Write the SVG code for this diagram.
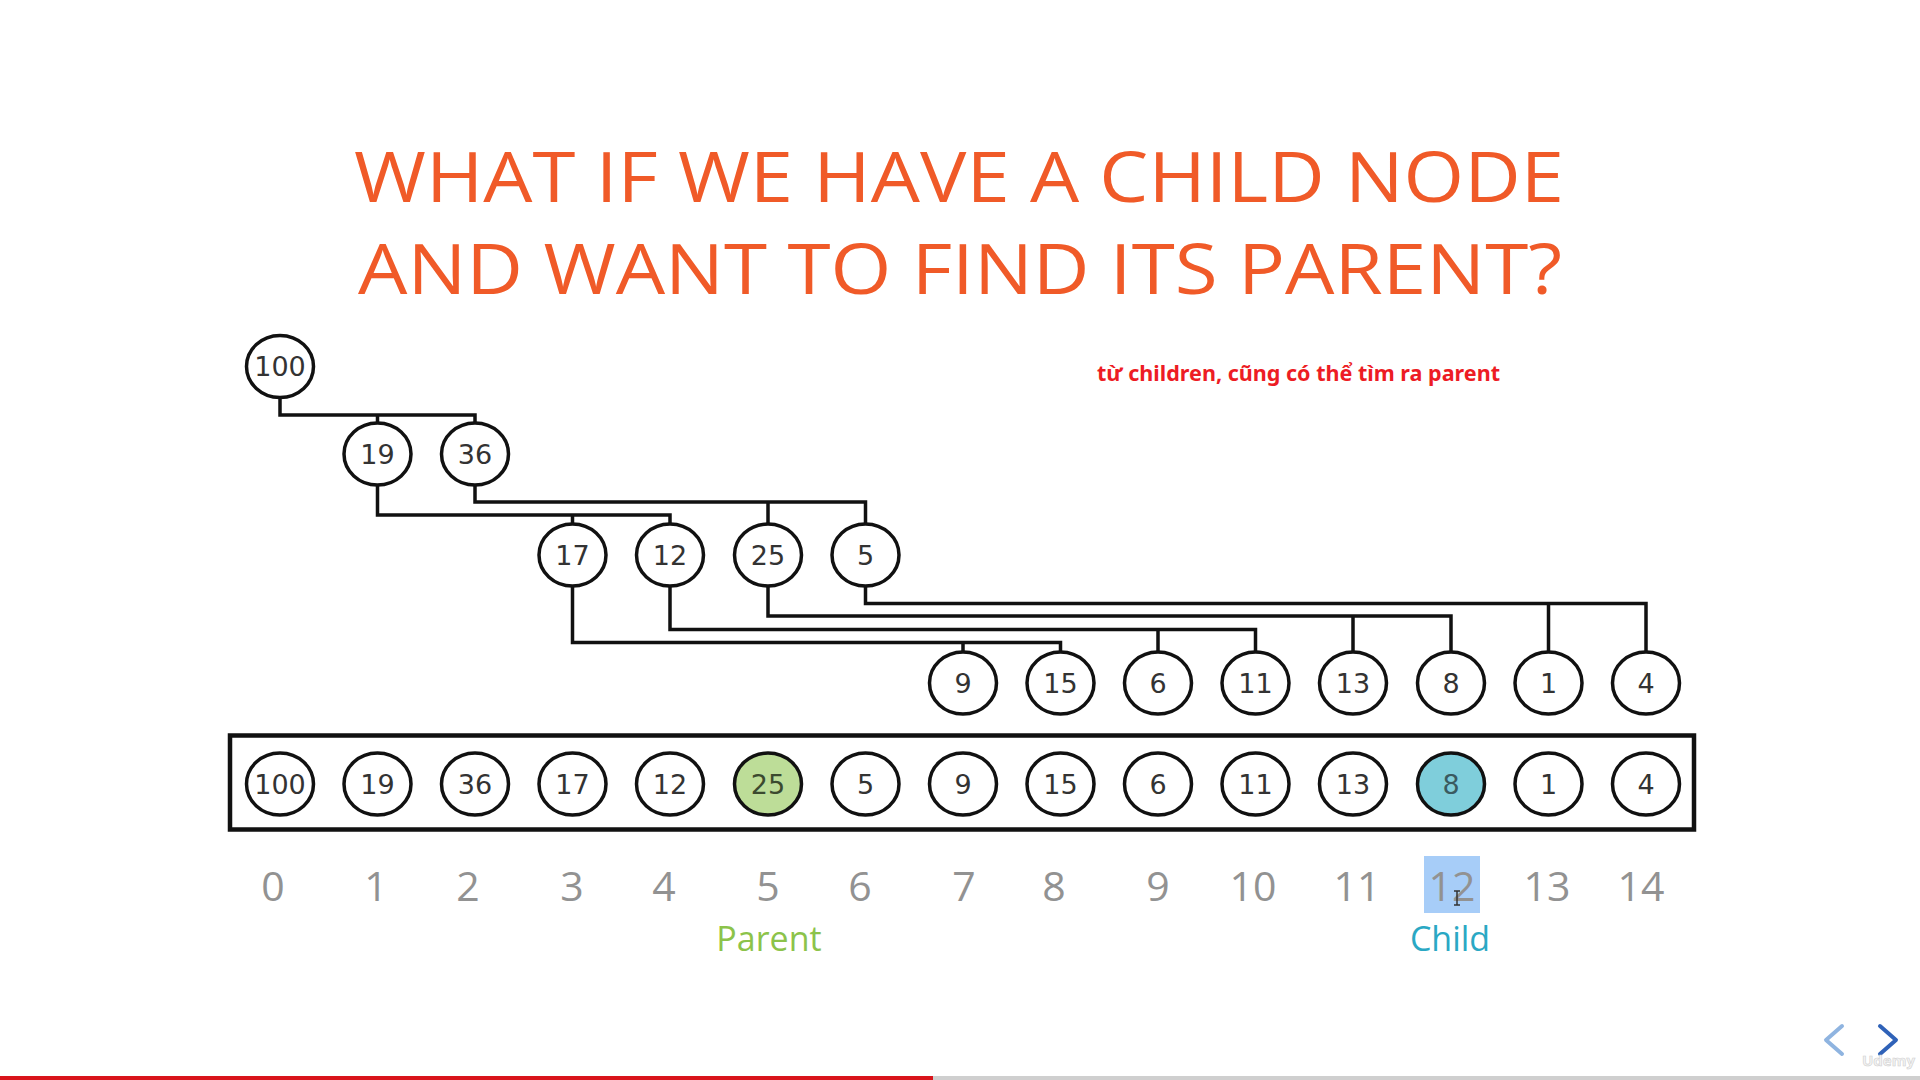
<svg xmlns="http://www.w3.org/2000/svg" width="1920" height="1080" viewBox="0 0 1920 1080">
  <style>
    .title { font-family: "Open Sans", "Liberation Sans", sans-serif; font-size: 70px; fill: #f05a28; text-anchor: middle; }
    .note { font-family: "Noto Sans", "Open Sans", sans-serif; font-weight: bold; font-size: 22px; fill: #ed1c24; }
    .node ellipse { fill: #ffffff; stroke: #111111; stroke-width: 3.5; }
    .node text { font-family: "DejaVu Sans", sans-serif; font-size: 27px; fill: #333333; text-anchor: middle; dominant-baseline: central; }
    .edge { fill: none; stroke: #111111; stroke-width: 3.5; stroke-linejoin: miter; stroke-linecap: square; }
    .idx { font-family: "Open Sans", "Liberation Sans", sans-serif; font-size: 41px; fill: #929292; text-anchor: middle; }
    .lbl { font-family: "Open Sans", "Liberation Sans", sans-serif; font-size: 34px; text-anchor: middle; }
  </style>

  <rect x="0" y="0" width="1920" height="1080" fill="#ffffff"/>

  <!-- heading -->
  <text class="title" x="959" y="202" textLength="1210" lengthAdjust="spacingAndGlyphs">WHAT IF WE HAVE A CHILD NODE</text>
  <text class="title" x="960" y="294" textLength="1204" lengthAdjust="spacingAndGlyphs">AND WANT TO FIND ITS PARENT?</text>

  <!-- annotation -->
  <text class="note" x="1097" y="381" textLength="403" lengthAdjust="spacingAndGlyphs">từ children, cũng có thể tìm ra parent</text>

  <!-- tree connectors -->
  <g id="connectors">
    <path class="edge" d="M280 397.5 V415 H475 V423 M377.5 415 V423"/>
    <path class="edge" d="M377.5 485 V515 H670 V524 M572.5 515 V524"/>
    <path class="edge" d="M475 485 V502 H865.5 V524 M768 502 V524"/>
    <path class="edge" d="M572.5 586 V642.5 H1060.5 V652 M963 642.5 V652"/>
    <path class="edge" d="M670 586 V629.5 H1255.5 V652 M1158 629.5 V652"/>
    <path class="edge" d="M768 586 V616 H1451 V652 M1353 616 V652"/>
    <path class="edge" d="M865.5 586 V603.5 H1646 V652 M1548.5 603.5 V652"/>
  </g>

  <!-- tree nodes -->
  <g id="t0" class="node"><ellipse cx="280" cy="366.5" rx="33.5" ry="31"/><text x="280" y="366.5">100</text></g>
  <g id="t1" class="node"><ellipse cx="377.5" cy="454" rx="33.5" ry="31"/><text x="377.5" y="454">19</text></g>
  <g id="t2" class="node"><ellipse cx="475" cy="454" rx="33.5" ry="31"/><text x="475" y="454">36</text></g>
  <g id="t3" class="node"><ellipse cx="572.5" cy="555" rx="33.5" ry="31"/><text x="572.5" y="555">17</text></g>
  <g id="t4" class="node"><ellipse cx="670" cy="555" rx="33.5" ry="31"/><text x="670" y="555">12</text></g>
  <g id="t5" class="node"><ellipse cx="768" cy="555" rx="33.5" ry="31"/><text x="768" y="555">25</text></g>
  <g id="t6" class="node"><ellipse cx="865.5" cy="555" rx="33.5" ry="31"/><text x="865.5" y="555">5</text></g>
  <g id="t7" class="node"><ellipse cx="963" cy="683" rx="33.5" ry="31"/><text x="963" y="683">9</text></g>
  <g id="t8" class="node"><ellipse cx="1060.5" cy="683" rx="33.5" ry="31"/><text x="1060.5" y="683">15</text></g>
  <g id="t9" class="node"><ellipse cx="1158" cy="683" rx="33.5" ry="31"/><text x="1158" y="683">6</text></g>
  <g id="t10" class="node"><ellipse cx="1255.5" cy="683" rx="33.5" ry="31"/><text x="1255.5" y="683">11</text></g>
  <g id="t11" class="node"><ellipse cx="1353" cy="683" rx="33.5" ry="31"/><text x="1353" y="683">13</text></g>
  <g id="t12" class="node"><ellipse cx="1451" cy="683" rx="33.5" ry="31"/><text x="1451" y="683">8</text></g>
  <g id="t13" class="node"><ellipse cx="1548.5" cy="683" rx="33.5" ry="31"/><text x="1548.5" y="683">1</text></g>
  <g id="t14" class="node"><ellipse cx="1646" cy="683" rx="33.5" ry="31"/><text x="1646" y="683">4</text></g>

  <!-- array storage -->
  <g id="array">
    <rect x="230" y="735.5" width="1464" height="94" fill="none" stroke="#111111" stroke-width="4.5"/>
  </g>
  <g id="a0" class="node"><ellipse cx="280" cy="784" rx="33.5" ry="31"/><text x="280" y="784">100</text></g>
  <g id="a1" class="node"><ellipse cx="377.5" cy="784" rx="33.5" ry="31"/><text x="377.5" y="784">19</text></g>
  <g id="a2" class="node"><ellipse cx="475" cy="784" rx="33.5" ry="31"/><text x="475" y="784">36</text></g>
  <g id="a3" class="node"><ellipse cx="572.5" cy="784" rx="33.5" ry="31"/><text x="572.5" y="784">17</text></g>
  <g id="a4" class="node"><ellipse cx="670" cy="784" rx="33.5" ry="31"/><text x="670" y="784">12</text></g>
  <g id="a5" class="node"><ellipse cx="768" cy="784" rx="33.5" ry="31" style="fill:#bddd98"/><text x="768" y="784" style="fill:#3b4a2f">25</text></g>
  <g id="a6" class="node"><ellipse cx="865.5" cy="784" rx="33.5" ry="31"/><text x="865.5" y="784">5</text></g>
  <g id="a7" class="node"><ellipse cx="963" cy="784" rx="33.5" ry="31"/><text x="963" y="784">9</text></g>
  <g id="a8" class="node"><ellipse cx="1060.5" cy="784" rx="33.5" ry="31"/><text x="1060.5" y="784">15</text></g>
  <g id="a9" class="node"><ellipse cx="1158" cy="784" rx="33.5" ry="31"/><text x="1158" y="784">6</text></g>
  <g id="a10" class="node"><ellipse cx="1255.5" cy="784" rx="33.5" ry="31"/><text x="1255.5" y="784">11</text></g>
  <g id="a11" class="node"><ellipse cx="1353" cy="784" rx="33.5" ry="31"/><text x="1353" y="784">13</text></g>
  <g id="a12" class="node"><ellipse cx="1451" cy="784" rx="33.5" ry="31" style="fill:#7fcedb"/><text x="1451" y="784" style="fill:#3a5a60">8</text></g>
  <g id="a13" class="node"><ellipse cx="1548.5" cy="784" rx="33.5" ry="31"/><text x="1548.5" y="784">1</text></g>
  <g id="a14" class="node"><ellipse cx="1646" cy="784" rx="33.5" ry="31"/><text x="1646" y="784">4</text></g>

  <!-- index row -->
  <g id="indices">
    <rect x="1424" y="856" width="56" height="57" fill="#a7cdf8"/>
    <text class="idx" x="273" y="901">0</text>
    <text class="idx" x="376" y="901">1</text>
    <text class="idx" x="468" y="901">2</text>
    <text class="idx" x="572" y="901">3</text>
    <text class="idx" x="664" y="901">4</text>
    <text class="idx" x="768" y="901">5</text>
    <text class="idx" x="860" y="901">6</text>
    <text class="idx" x="964" y="901">7</text>
    <text class="idx" x="1054" y="901">8</text>
    <text class="idx" x="1158" y="901">9</text>
    <text class="idx" x="1253" y="901">10</text>
    <text class="idx" x="1357" y="901">11</text>
    <text class="idx" x="1452" y="901">12</text>
    <text class="idx" x="1547" y="901">13</text>
    <text class="idx" x="1641" y="901">14</text>
    <!-- text cursor -->
    <path d="M1454 891 H1460 M1457 891 V905 M1454 905 H1460" fill="none" stroke="#333333" stroke-width="1.5"/>
  </g>

  <text class="lbl" x="769" y="951" fill="#8cc34a">Parent</text>
  <text class="lbl" x="1450" y="951" fill="#2aa8c4">Child</text>

  <!-- player controls -->
  <path d="M1842 1026 L1826 1040 L1842 1054" fill="none" stroke="#8fb4e0" stroke-width="4" stroke-linecap="round" stroke-linejoin="round"/>
  <path d="M1880 1026 L1896 1040 L1880 1054" fill="none" stroke="#2f62b8" stroke-width="4" stroke-linecap="round" stroke-linejoin="round"/>
  <text x="1862" y="1066" font-family="Open Sans, sans-serif" font-size="15" font-weight="bold" fill="#f4f4f4" stroke="#d0d0d0" stroke-width="0.6">Udemy</text>

  <!-- progress bar -->
  <rect x="0" y="1076" width="1920" height="4" fill="#cfcfcf"/>
  <rect x="0" y="1076" width="933" height="4" fill="#d9141b"/>
</svg>
